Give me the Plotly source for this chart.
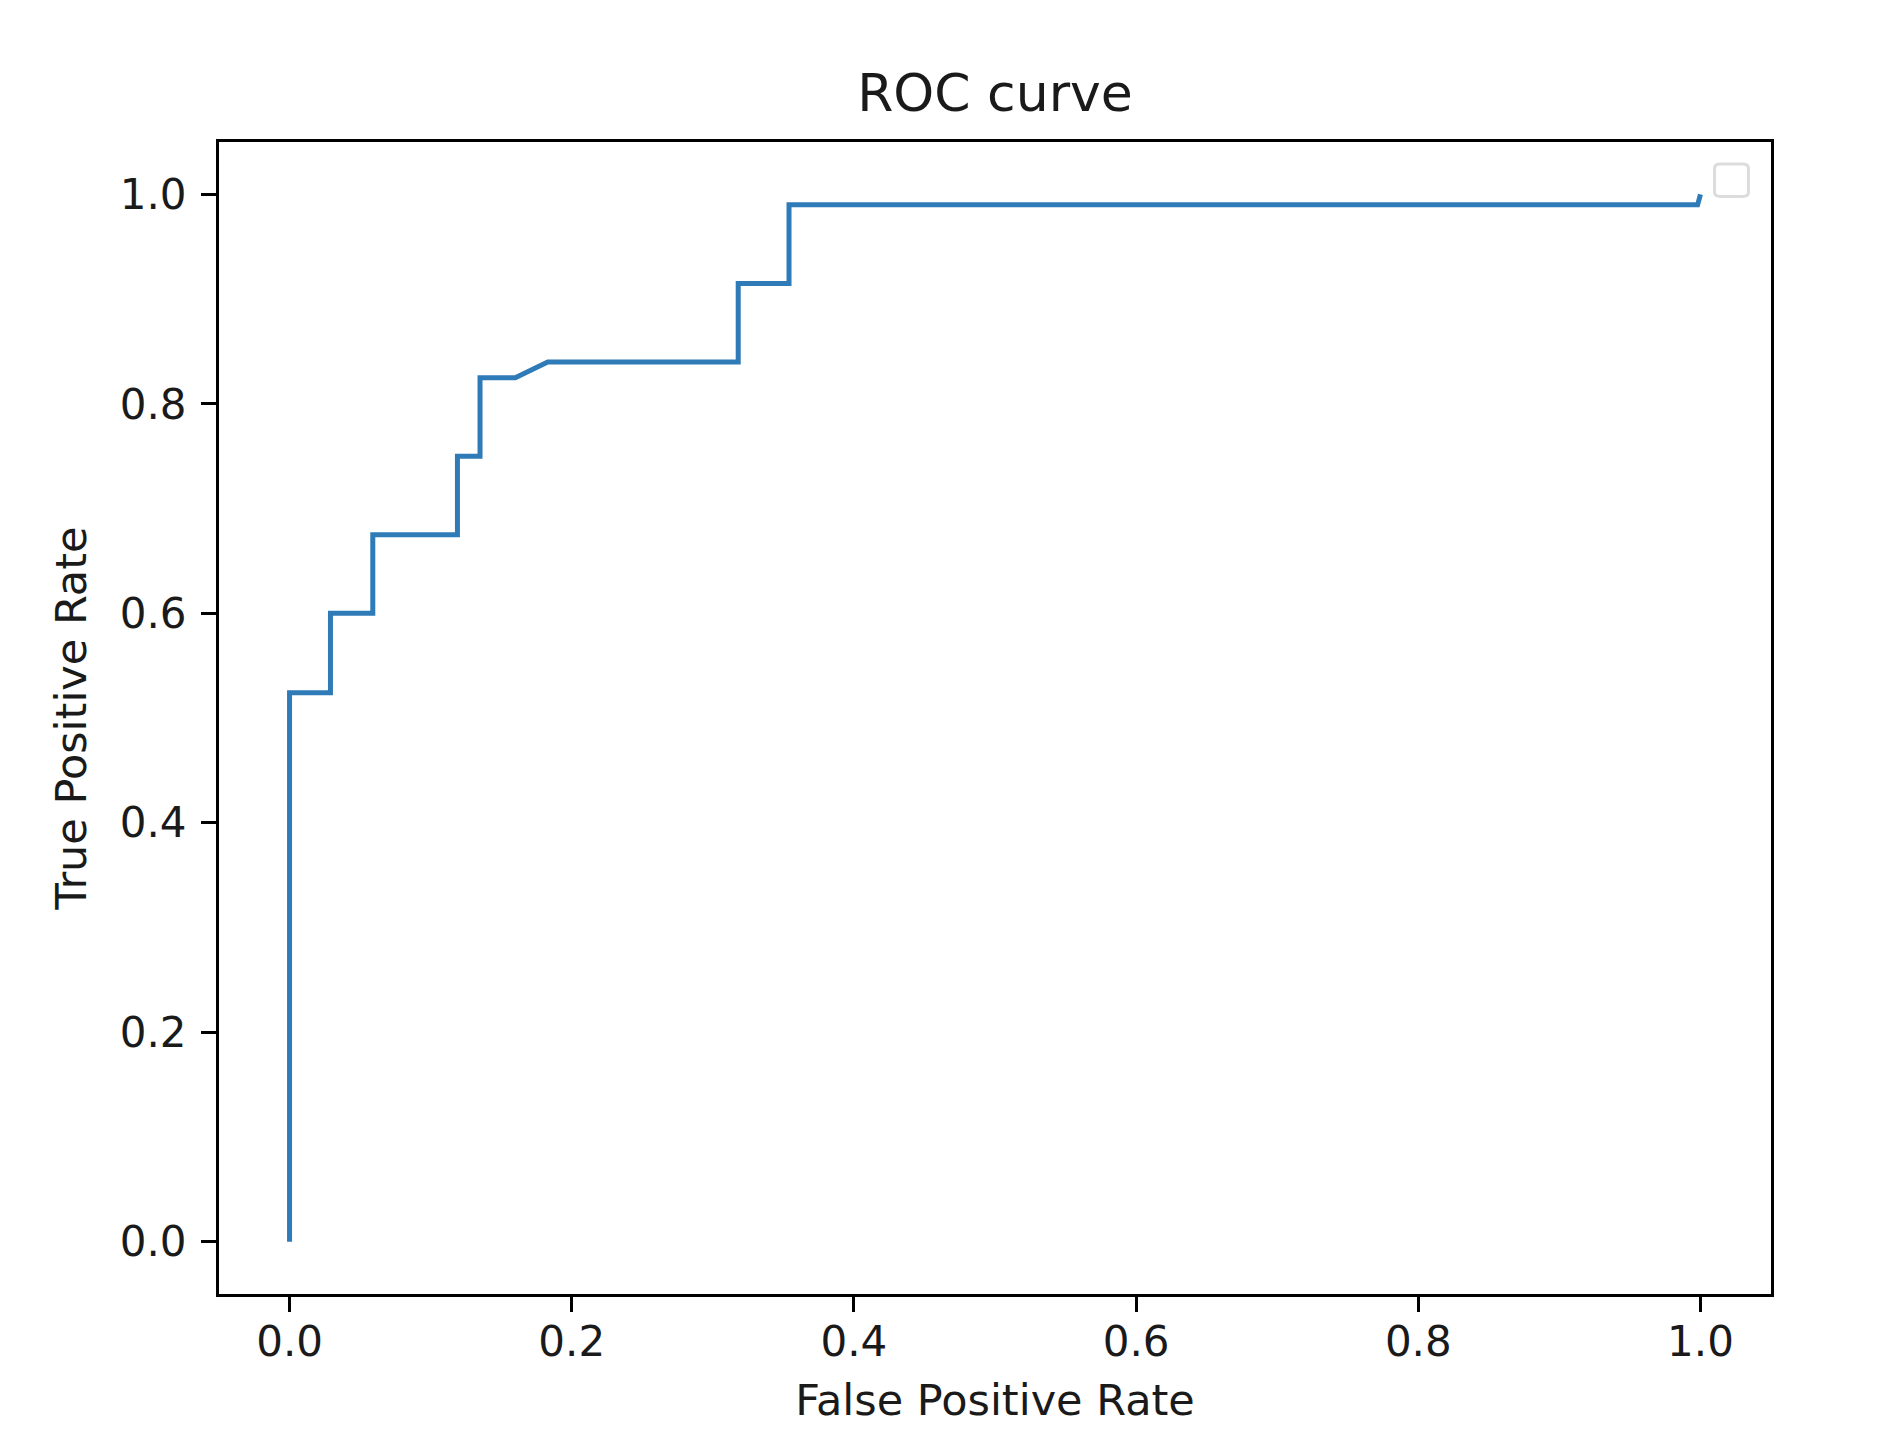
import plotly.graph_objects as go

fpr = [0.0, 0.0, 0.029, 0.029, 0.059, 0.059, 0.119, 0.119, 0.135, 0.135, 0.160, 0.183, 0.318, 0.318, 0.354, 0.354, 0.998, 1.0]
tpr = [0.0, 0.524, 0.524, 0.600, 0.600, 0.675, 0.675, 0.750, 0.750, 0.825, 0.825, 0.840, 0.840, 0.915, 0.915, 0.990, 0.990, 1.0]
tick_vals = [0.0, 0.2, 0.4, 0.6, 0.8, 1.0]

# page body has an 8px default margin, so the figure is sized to fit inside it
W, H = 1876, 1430
L, R, T, B = 211, 113, 134, 144
FONT = "DejaVu Sans"

fig = go.Figure()
fig.add_trace(go.Scatter(x=fpr, y=tpr, mode="lines",
                         line=dict(color="#2f7bb8", width=5),
                         showlegend=False, hoverinfo="skip"))

axis_common = dict(
    showline=True, linecolor="black", linewidth=3, mirror=True,
    ticks="outside", ticklen=15, tickwidth=3, tickcolor="black",
    showgrid=False, zeroline=False, tickformat=".1f",
    tickvals=tick_vals,
    tickfont=dict(family=FONT, size=42, color="#1a1a1a"),
)

fig.update_layout(
    width=W, height=H,
    margin=dict(l=L, r=R, t=T, b=B),
    paper_bgcolor="white", plot_bgcolor="white",
    title=dict(text="ROC curve", x=0.5, xref="paper", y=1 - 85 / H,
               yref="container", xanchor="center", yanchor="middle",
               font=dict(family=FONT, size=52, color="#1a1a1a")),
    xaxis=dict(range=[-0.05, 1.05], ticklabelstandoff=-6,
               title=dict(text="False Positive Rate", standoff=20,
                          font=dict(family=FONT, size=43, color="#1a1a1a")),
               **axis_common),
    yaxis=dict(range=[-0.05, 1.05], ticklabelstandoff=6,
               title=dict(text="True Positive Rate", standoff=20,
                          font=dict(family=FONT, size=43, color="#1a1a1a")),
               **axis_common),
    showlegend=False,
)

# empty legend frame (matplotlib legend with no entries)
x0, x1, y0, y1 = 1.010, 1.034, 0.998, 1.029
rx, ry = 0.004, 0.004
path = (f"M {x0+rx},{y0} L {x1-rx},{y0} Q {x1},{y0} {x1},{y0+ry} "
        f"L {x1},{y1-ry} Q {x1},{y1} {x1-rx},{y1} L {x0+rx},{y1} "
        f"Q {x0},{y1} {x0},{y1-ry} L {x0},{y0+ry} Q {x0},{y0} {x0+rx},{y0} Z")
fig.add_shape(type="path", path=path, xref="x", yref="y",
              line=dict(color="#dcdcdc", width=3), fillcolor="rgba(255,255,255,0.8)")

fig.write_html("out.html")
